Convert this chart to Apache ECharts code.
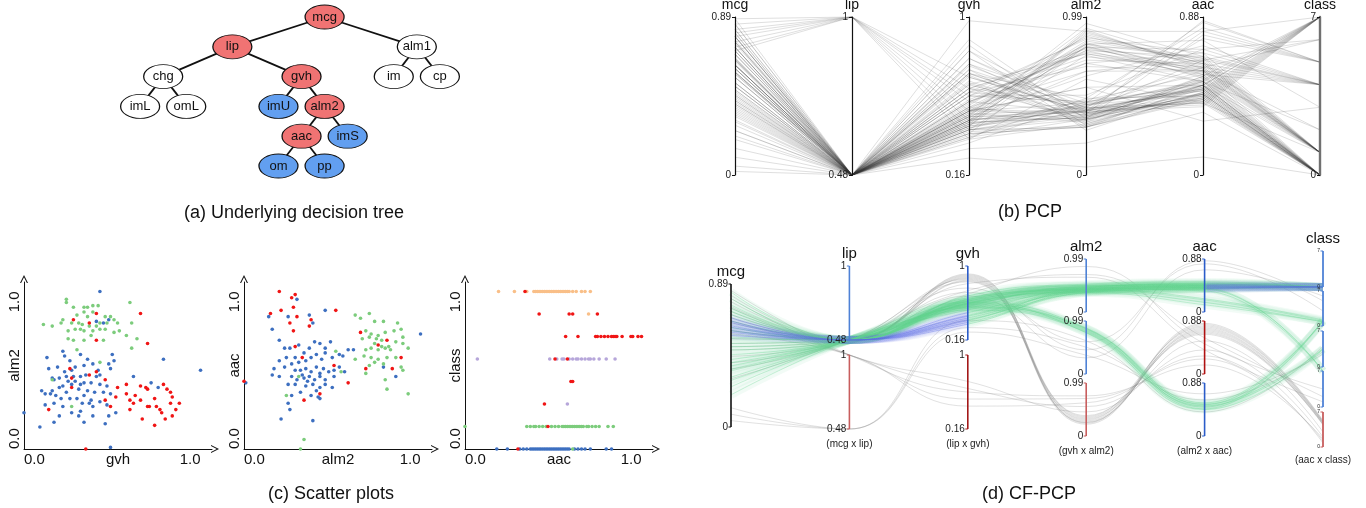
<!DOCTYPE html>
<html><head><meta charset="utf-8">
<script src="https://cdn.jsdelivr.net/npm/echarts@6/dist/echarts.min.js"></script>
<style>html,body{margin:0;padding:0;background:#fff}#c{width:1366px;height:508px}</style>
</head><body><div id="c"></div>
<script>
// ---------------- DATA ----------------
// (a) decision tree
const treeNames   = ['mcg','lip','alm1','chg','gvh','im','cp','imL','omL','imU','alm2','aac','imS','om','pp'];
const treeParents = [-1,0,0,1,1,2,2,3,3,4,4,10,10,11,11];
const treeRoles   = ['path','path','plain','plain','path','plain','plain','plain','plain','leaf','path','path','leaf','leaf','leaf'];

// (b) PCP
const pcpDims = ['mcg','lip','gvh','alm2','aac','class'];
const pcpMin  = [0, 0.48, 0.16, 0, 0, 0];
const pcpMax  = [0.89, 1, 1, 0.99, 0.88, 7];
const pcpRows = [
[0.30,0.48,0.40,0.35,0.45,0],[0.35,0.48,0.45,0.40,0.50,0],[0.40,0.48,0.38,0.30,0.42,0],[0.45,0.48,0.50,0.45,0.48,0],
[0.50,0.48,0.42,0.38,0.52,0],[0.25,0.48,0.35,0.32,0.46,0],[0.20,0.48,0.48,0.42,0.40,0],[0.38,0.48,0.44,0.36,0.55,0],
[0.42,0.48,0.36,0.48,0.44,0],[0.48,0.48,0.52,0.34,0.50,0],[0.33,0.48,0.40,0.40,0.47,0],[0.28,0.48,0.47,0.37,0.43,0],
[0.55,0.48,0.43,0.44,0.51,0],[0.52,0.48,0.39,0.31,0.49,0],[0.36,0.48,0.55,0.39,0.45,0],[0.44,0.48,0.41,0.43,0.53,0],
[0.40,0.48,0.46,0.35,0.41,0],[0.31,0.48,0.37,0.41,0.48,0],[0.47,0.48,0.49,0.33,0.46,0],[0.22,0.48,0.33,0.46,0.50,0],
[0.58,0.48,0.50,0.38,0.44,0],[0.60,0.48,0.44,0.36,0.52,0],[0.39,0.48,0.42,0.42,0.47,0],[0.41,0.48,0.38,0.30,0.43,0],
[0.46,0.48,0.47,0.40,0.49,0],[0.34,0.48,0.45,0.44,0.45,0],[0.15,0.48,0.40,0.37,0.50,0],[0.50,0.48,0.36,0.35,0.54,0],
[0.43,0.48,0.51,0.39,0.42,0],[0.37,0.48,0.43,0.41,0.48,0],[0.62,0.48,0.41,0.47,0.56,0],[0.57,0.48,0.45,0.43,0.58,0],
[0.62,0.48,0.50,0.82,0.58,1],[0.55,0.48,0.45,0.88,0.62,1],[0.70,0.48,0.55,0.78,0.55,1],[0.48,0.48,0.42,0.90,0.60,1],
[0.65,0.48,0.60,0.85,0.65,1],[0.75,0.48,0.52,0.80,0.57,1],[0.58,0.48,0.48,0.92,0.63,1],[0.42,0.48,0.40,0.75,0.52,1],
[0.68,0.48,0.58,0.86,0.68,1],[0.80,0.48,0.62,0.79,0.60,1],[0.52,0.48,0.44,0.83,0.56,1],[0.62,0.48,0.47,0.95,0.66,1],
[0.72,0.48,0.56,0.77,0.59,1],[0.45,0.48,0.38,0.81,0.54,1],[0.60,0.48,0.53,0.87,0.61,1],[0.66,0.48,0.49,0.84,0.64,1],
[0.78,0.48,0.64,0.76,0.58,1],[0.50,0.48,0.46,0.89,0.62,1],[0.64,0.48,0.43,0.91,0.59,1],[0.57,0.48,0.51,0.80,0.63,1],
[0.72,1.00,0.45,0.65,0.58,2],[0.80,1.00,0.55,0.70,0.52,2],
[0.62,0.48,0.50,0.55,0.30,3],[0.25,0.48,0.42,0.82,0.75,3],
[0.65,0.48,0.55,0.72,0.62,4],[0.58,0.48,0.48,0.78,0.66,4],[0.72,0.48,0.60,0.68,0.58,4],[0.52,0.48,0.45,0.80,0.70,4],
[0.68,0.48,0.52,0.65,0.64,4],[0.75,0.48,0.58,0.74,0.60,4],[0.60,0.48,0.50,0.70,0.68,4],[0.55,0.48,0.62,0.76,0.56,4],
[0.78,0.48,0.47,0.62,0.72,4],[0.62,0.48,0.54,0.82,0.65,4],
[0.72,0.48,0.82,0.40,0.80,5],[0.78,0.48,0.75,0.45,0.85,5],[0.65,0.48,0.88,0.35,0.78,5],[0.82,0.48,0.70,0.48,0.82,5],
[0.70,0.48,0.78,0.38,0.86,5],[0.85,0.48,0.72,0.42,0.76,5],
[0.75,1.00,0.62,0.45,0.60,6],[0.82,1.00,0.68,0.40,0.64,6],[0.78,1.00,0.58,0.50,0.70,6],
[0.70,0.48,0.70,0.38,0.42,7],[0.75,0.48,0.65,0.32,0.48,7],[0.65,0.48,0.78,0.42,0.40,7],[0.80,0.48,0.62,0.35,0.45,7],
[0.60,0.48,0.72,0.30,0.50,7],[0.85,0.48,0.68,0.40,0.38,7],[0.72,0.48,0.82,0.28,0.46,7],[0.68,0.48,0.60,0.44,0.52,7],
[0.78,0.48,0.75,0.36,0.43,7],[0.62,0.48,0.66,0.33,0.55,7],[0.88,0.48,0.70,0.39,0.41,7],[0.74,0.48,0.58,0.46,0.47,7],
[0.66,0.48,0.85,0.31,0.44,7],[0.82,0.48,0.64,0.37,0.50,7],[0.58,0.48,0.74,0.41,0.39,7],[0.76,0.48,0.69,0.34,0.53,7],
[0.85,1.00,0.40,0.30,0.45,0],[0.88,1.00,0.50,0.55,0.50,1],[0.05,0.48,0.30,0.20,0.35,0],[0.02,0.48,0.25,0.05,0.10,0],
[0.10,0.48,0.98,0.90,0.80,7],[0.70,1.00,0.35,0.60,0.40,1]
];

// (c) scatter plot 1: gvh (x) vs alm2 (y)
const s1Green = [[0.24,0.95],[0.24,0.93],[0.28,0.90],[0.34,0.90],[0.36,0.90],[0.39,0.91],[0.42,0.91],[0.34,0.87],[0.30,0.85],
[0.36,0.84],[0.39,0.87],[0.46,0.84],[0.49,0.84],[0.51,0.82],[0.60,0.93],[0.22,0.82],[0.21,0.80],[0.11,0.79],[0.16,0.78],
[0.27,0.80],[0.31,0.80],[0.33,0.79],[0.37,0.78],[0.41,0.78],[0.43,0.80],[0.47,0.80],[0.53,0.80],[0.54,0.75],[0.61,0.80],
[0.25,0.75],[0.29,0.76],[0.32,0.76],[0.34,0.75],[0.39,0.75],[0.43,0.76],[0.46,0.76],[0.51,0.74],[0.58,0.72],[0.25,0.70],
[0.28,0.69],[0.34,0.69],[0.38,0.72],[0.45,0.69],[0.64,0.70],[0.61,0.64],[0.30,0.63],[0.43,0.55],[0.16,0.44],[0.27,0.27]];
const s1Red = [[0.28,0.82],[0.37,0.80],[0.41,0.86],[0.41,0.69],[0.66,0.86],[0.70,0.67],
[0.26,0.51],[0.27,0.45],[0.27,0.39],[0.37,0.47],[0.41,0.49],[0.46,0.44],[0.53,0.39],[0.58,0.41],[0.52,0.33],[0.46,0.31],
[0.49,0.27],[0.58,0.35],[0.60,0.31],[0.62,0.29],[0.63,0.34],[0.66,0.40],[0.69,0.39],[0.66,0.31],[0.70,0.38],[0.71,0.27],
[0.74,0.32],[0.75,0.27],[0.77,0.25],[0.79,0.41],[0.81,0.38],[0.83,0.36],[0.84,0.33],[0.83,0.29],[0.78,0.23],[0.80,0.19],
[0.84,0.21],[0.86,0.25],[0.88,0.29],[0.74,0.15],[0.67,0.19],[0.60,0.25],[0.35,0.00],[0.70,0.27],[0.14,0.25]];
const s1Blue = [[0.43,1.00],[0.41,0.81],[0.45,0.80],[0.48,0.82],
[0.22,0.62],[0.23,0.59],[0.13,0.58],[0.32,0.60],[0.36,0.57],[0.26,0.56],[0.19,0.52],[0.14,0.51],[0.29,0.52],[0.34,0.53],
[0.39,0.54],[0.42,0.50],[0.48,0.54],[0.51,0.56],[0.50,0.60],[0.49,0.51],[0.27,0.50],[0.23,0.49],[0.16,0.45],[0.17,0.44],
[0.20,0.45],[0.24,0.46],[0.28,0.46],[0.32,0.46],[0.35,0.47],[0.41,0.46],[0.43,0.47],[0.29,0.43],[0.27,0.41],[0.22,0.40],
[0.20,0.39],[0.16,0.37],[0.10,0.37],[0.12,0.35],[0.15,0.35],[0.18,0.34],[0.24,0.36],[0.32,0.41],[0.34,0.42],[0.38,0.42],
[0.43,0.41],[0.47,0.40],[0.36,0.37],[0.40,0.36],[0.45,0.36],[0.49,0.35],[0.34,0.34],[0.30,0.32],[0.26,0.32],[0.21,0.32],
[0.12,0.28],[0.17,0.29],[0.22,0.27],[0.33,0.29],[0.37,0.29],[0.39,0.27],[0.43,0.30],[0.47,0.28],[0.32,0.24],[0.27,0.23],
[0.20,0.21],[0.17,0.17],[0.31,0.21],[0.34,0.17],[0.39,0.21],[0.46,0.16],[0.52,0.23],[0.48,0.21],[0.62,0.46],[0.72,0.42],
[0.76,0.39],[0.79,0.57],[1.00,0.50],[0.09,0.14],[0.00,0.23],[0.49,0.01],[0.25,0.43],[0.31,0.38],[0.38,0.31]];

// (c) scatter plot 2: alm2 (x) vs aac (y)
const s2Red = [[0.20,1.00],[0.27,0.96],[0.29,0.98],[0.28,0.90],[0.21,0.88],[0.15,0.86],[0.30,0.84],[0.26,0.80],[0.38,0.82],
[0.37,0.78],[0.52,0.88],[0.28,0.75],[0.29,0.65],[0.33,0.58],[0.51,0.53],[0.43,0.35],[0.34,0.31],[0.59,0.42],[0.66,0.74],
[0.76,0.66],[0.81,0.69],[0.89,0.58],[0.84,0.51],[0.69,0.51],[0.00,0.43]];
const s2Blue = [[0.14,0.84],[0.16,0.76],[0.25,0.84],[0.37,0.85],[0.46,0.88],[0.30,0.95],[0.39,0.80],[0.20,0.69],[0.23,0.64],
[0.26,0.64],[0.31,0.66],[0.37,0.64],[0.40,0.68],[0.43,0.67],[0.46,0.64],[0.49,0.68],[0.20,0.56],[0.24,0.58],[0.27,0.54],
[0.29,0.58],[0.31,0.55],[0.34,0.61],[0.35,0.56],[0.38,0.58],[0.41,0.60],[0.44,0.57],[0.46,0.61],[0.50,0.58],[0.54,0.60],
[0.56,0.59],[0.59,0.63],[0.62,0.63],[0.17,0.51],[0.23,0.52],[0.29,0.50],[0.32,0.50],[0.35,0.51],[0.38,0.49],[0.41,0.52],
[0.43,0.48],[0.45,0.51],[0.48,0.49],[0.51,0.50],[0.54,0.52],[0.57,0.49],[0.20,0.46],[0.27,0.46],[0.30,0.44],[0.34,0.45],
[0.37,0.46],[0.40,0.44],[0.43,0.46],[0.46,0.44],[0.51,0.46],[0.25,0.41],[0.29,0.41],[0.35,0.40],[0.39,0.41],[0.43,0.39],
[0.46,0.41],[0.50,0.39],[0.32,0.36],[0.38,0.34],[0.42,0.33],[0.27,0.34],[0.25,0.29],[0.26,0.25],[0.21,0.19],[0.39,0.18],
[0.43,0.32],[0.16,0.47],[0.01,0.42],[0.86,0.46],[1.00,0.73],[0.79,0.52],[0.33,0.47],[0.36,0.43],[0.41,0.37]];
const s2Green = [[0.63,0.85],[0.71,0.86],[0.66,0.83],[0.74,0.81],[0.79,0.81],[0.87,0.80],[0.69,0.75],[0.72,0.73],[0.76,0.72],
[0.80,0.74],[0.85,0.75],[0.89,0.76],[0.90,0.71],[0.67,0.70],[0.71,0.71],[0.74,0.67],[0.78,0.69],[0.82,0.65],[0.86,0.68],
[0.90,0.67],[0.69,0.63],[0.72,0.64],[0.76,0.63],[0.80,0.64],[0.83,0.63],[0.93,0.64],[0.63,0.57],[0.68,0.59],[0.72,0.58],
[0.76,0.57],[0.81,0.58],[0.86,0.58],[0.71,0.53],[0.74,0.55],[0.79,0.54],[0.89,0.52],[0.69,0.48],[0.80,0.44],[0.90,0.50],
[0.81,0.38],[0.93,0.35],[0.52,0.62],[0.55,0.49],[0.31,0.46],[0.24,0.34],[0.34,0.06],[0.32,0.00],[0.75,0.70],[0.78,0.65]];

// (c) scatter plot 3: aac (x) vs class index (0..7)
const s3Orange = [[0.19,7],[0.28,7],[0.35,7],[0.39,7],[0.40,7],[0.41,7],[0.42,7],[0.43,7],[0.44,7],[0.45,7],[0.46,7],[0.47,7],
[0.48,7],[0.49,7],[0.50,7],[0.51,7],[0.52,7],[0.53,7],[0.54,7],[0.55,7],[0.56,7],[0.57,7],[0.58,7],[0.59,7],[0.61,7],[0.63,7],
[0.66,7],[0.68,7],[0.71,7],[0.70,6]];
const s3Red = [[0.34,7],[0.42,6],[0.59,6],[0.61,6],[0.75,6],[0.57,5],[0.64,5],[0.74,5],[0.75,5],[0.77,5],[0.79,5],[0.81,5],
[0.83,5],[0.84,5],[0.85,5],[0.86,5],[0.89,5],[0.94,5],[0.95,5],[0.98,5],[1.00,5],[0.51,4],[0.58,4],[0.60,3],[0.61,3],
[0.45,2],[0.47,1],[0.30,0]];
const s3Purple = [[0.07,4],[0.48,4],[0.52,4],[0.55,4],[0.56,4],[0.59,4],[0.61,4],[0.63,4],[0.64,4],[0.66,4],[0.68,4],[0.70,4],
[0.71,4],[0.73,4],[0.76,4],[0.80,4],[0.85,4],[0.58,2]];
const s3Green = [[0.00,1],[0.35,1],[0.37,1],[0.39,1],[0.40,1],[0.42,1],[0.44,1],[0.46,1],[0.49,1],[0.51,1],[0.53,1],[0.55,1],
[0.56,1],[0.57,1],[0.58,1],[0.59,1],[0.60,1],[0.61,1],[0.62,1],[0.63,1],[0.64,1],[0.65,1],[0.66,1],[0.67,1],[0.69,1],[0.70,1],
[0.72,1],[0.74,1],[0.76,1],[0.81,1],[0.84,1],[0.61,0]];
const s3Blue = [[0.18,0],[0.24,0],[0.31,0],[0.33,0],[0.35,0],[0.37,0],[0.38,0],[0.39,0],[0.40,0],[0.41,0],[0.42,0],[0.43,0],
[0.44,0],[0.45,0],[0.46,0],[0.47,0],[0.48,0],[0.49,0],[0.50,0],[0.51,0],[0.52,0],[0.53,0],[0.54,0],[0.55,0],[0.56,0],[0.57,0],
[0.58,0],[0.59,0],[0.62,0],[0.64,0],[0.66,0],[0.68,0],[0.71,0],[0.80,0],[0.83,0]];

// (d) CF-PCP: tick labels per axis, captions
const cfNames    = ['mcg','lip','gvh','alm2','aac','class'];
const cfMin      = [0, 0.48, 0.16, 0, 0, 0];
const cfMax      = [0.89, 1, 1, 0.99, 0.88, 7];
const cfCaptions = ['', '(mcg x lip)', '(lip x gvh)', '(gvh x alm2)', '(alm2 x aac)', '(aac x class)'];
const cfSubAxisKind = [['root'],['hit','miss'],['hit','miss'],['hit','hit','miss'],['hit','miss','hit'],['hit','hit','hit','hit','miss']];
// bundles: sub-axis path, tone per gap (B blue, G green, N neutral), rows [mcg, lip, gvh, alm2, aac, class]
const cfBluePath = [0,0,0,0,0,0], cfBlueTone = ['B','B','G','G','B'];
const cfBlueRows = [[0.68,0.48,0.47,0.45,0.46,0],[0.65,0.48,0.44,0.42,0.44,0],[0.66,0.48,0.41,0.40,0.43,0],[0.62,0.48,0.43,0.39,0.41,0],
[0.60,0.48,0.38,0.41,0.40,0],[0.63,0.48,0.36,0.37,0.42,0],[0.57,0.48,0.39,0.36,0.39,0],[0.59,0.48,0.34,0.38,0.38,0]];
const cfGreenAPath = [0,0,0,0,0,0], cfGreenATone = ['G','G','G','G','G'];
const cfGreenARows = [[0.84,0.48,0.62,0.50,0.48,0],[0.76,0.48,0.58,0.47,0.45,0],[0.70,0.48,0.66,0.52,0.50,0],[0.52,0.48,0.55,0.44,0.42,0],
[0.45,0.48,0.60,0.46,0.47,0],[0.38,0.48,0.52,0.41,0.40,0],[0.31,0.48,0.57,0.43,0.44,0],[0.25,0.48,0.50,0.39,0.38,0],
[0.20,0.48,0.54,0.48,0.46,0],[0.56,0.48,0.64,0.42,0.41,0]];
const cfGreenBPath = [0,0,0,0,0,1], cfGreenBTone = ['G','G','G','G','G'];
const cfGreenBRows = [[0.72,0.48,0.60,0.40,0.20,1.0],[0.48,0.48,0.56,0.38,0.16,0.8],[0.35,0.48,0.62,0.42,0.22,1.2],[0.60,0.48,0.58,0.36,0.12,0.9]];
const cfGreenCPath = [0,0,0,1,2,1], cfGreenCTone = ['G','G','G','G','G'];
const cfGreenCRows = [[0.66,0.48,0.56,0.84,0.52,1.1],[0.42,0.48,0.52,0.80,0.48,0.9],[0.29,0.48,0.59,0.86,0.55,1.0],[0.55,0.48,0.50,0.78,0.45,1.2]];
const cfGreenDPath = [0,0,0,1,2,2], cfGreenDTone = ['G','G','G','G','G'];
const cfGreenDRows = [[0.74,0.48,0.54,0.82,0.50,3.5],[0.36,0.48,0.58,0.77,0.44,3.4],[0.50,0.48,0.53,0.85,0.53,3.6]];
const cfGreenEPath = [0,0,0,0,0,3], cfGreenETone = ['G','G','G','G','G'];
const cfGreenERows = [[0.62,0.48,0.61,0.45,0.38,7],[0.40,0.48,0.57,0.43,0.35,6.9],[0.80,0.48,0.63,0.49,0.40,7]];
const cfGrayAPath = [0,0,0,2,1,4], cfGrayATone = ['N','N','N','N','N'];
const cfGrayARows = [[0.78,0.48,0.90,0.30,0.80,5.0],[0.65,0.48,0.87,0.25,0.76,4.8],[0.55,0.48,0.88,0.34,0.72,4.6],[0.72,0.48,0.84,0.22,0.82,5.2],
[0.48,0.48,0.86,0.28,0.70,4.4],[0.82,0.48,0.89,0.36,0.78,5.0],[0.60,0.48,0.83,0.26,0.74,4.9],[0.40,0.48,0.85,0.32,0.68,4.7],
[0.70,0.48,0.91,0.24,0.84,5.3],[0.36,0.48,0.82,0.38,0.66,4.5]];
const cfGrayBPath = [0,1,1,2,1,4], cfGrayBTone = ['N','N','N','N','N'];
const cfGrayBRows = [[0.74,1,0.62,0.55,0.40,2.0],[0.66,1,0.50,0.70,0.25,1.2],[0.80,1,0.70,0.45,0.55,3.0],[0.58,1,0.42,0.62,0.30,0.8],[0.85,1,0.58,0.75,0.15,1.6]];
const cfGrayCPath = [0,1,0,1,2,2], cfGrayCTone = ['N','N','N','N','N'];
const cfGrayCRows = [[0.08,0.48,0.30,0.50,0.60,3.0],[0.04,0.48,0.25,0.35,0.70,2.5],[0.12,0.48,0.38,0.62,0.40,4.0]];
const cfGrayDPath = [0,0,0,1,0,1], cfGrayDTone = ['N','N','N','N','N'];
const cfGrayDRows = [[0.50,0.48,0.70,0.60,0.80,3.0],[0.44,0.48,0.75,0.45,0.85,5.0],[0.68,0.48,0.66,0.30,0.70,6.0]];
const cfGrayEPath = [0,0,0,0,1,3], cfGrayETone = ['N','N','N','N','N'];
const cfGrayERows = [[0.30,0.48,0.72,0.70,0.60,2.0],[0.75,0.48,0.68,0.85,0.50,3.5],[0.52,0.48,0.80,0.65,0.40,1.0]];

// ---------------- LAYOUT / STYLE ----------------
const FONT = 'Liberation Sans';
const ROLE_COLOR = {path:'#f07373', leaf:'#629ff0', plain:'#ffffff'};
// CF sub-axis vertical layout in panel units (0 = top of panel)
const CF_SEGS = [
  [[54,197]],
  [[36,110],[125,199]],
  [[36,110],[125,199]],
  [[29,82],[91,144],[153,206]],
  [[29,82],[91,144],[153,206]],
  [[21,57],[61,96],[101,137],[141,177],[182,217]]
];
const CF_KIND_COLOR = [
  {root:'#111111'},
  {hit:'#4f82d6', miss:'#c85e5e'},
  {hit:'#2b5cc9', miss:'#a31818'},
  {hit:'#4f82d6', miss:'#c85e5e'},
  {hit:'#2b5cc9', miss:'#b01212'},
  {hit:'#4f82d6', miss:'#c85e5e'}
];
const TONE = {B:[88,104,226], G:[95,210,140], N:[130,130,130]};

// ---------------- BUILD ----------------
function buildTree(i){
  const kids = [];
  treeParents.forEach((p,j)=>{ if(p===i) kids.push(buildTree(j)); });
  const node = {name:treeNames[i], itemStyle:{color:ROLE_COLOR[treeRoles[i]], borderColor:'#111', borderWidth:1}};
  if (kids.length) node.children = kids;
  return node;
}
const treeRoot = buildTree(0);

function cfY(a, seg, v){
  const s = CF_SEGS[a][seg];
  return s[0] + (cfMax[a]-v)/(cfMax[a]-cfMin[a])*(s[1]-s[0]);
}
function toneColor(tones, alpha){
  const rgba = t => 'rgba('+TONE[t].join(',')+','+alpha+')';
  if (tones.every(t=>t===tones[0])) return rgba(tones[0]);
  const stops = [];
  tones.forEach((t,i)=>{ stops.push({offset:i/5, color:rgba(t)}); stops.push({offset:(i+1)/5, color:rgba(t)}); });
  return new echarts.graphic.LinearGradient(0,0,1,0,stops);
}
const cfBundles = [
  {path:cfGrayAPath, tone:cfGrayATone, rows:cfGrayARows},
  {path:cfGrayBPath, tone:cfGrayBTone, rows:cfGrayBRows},
  {path:cfGrayCPath, tone:cfGrayCTone, rows:cfGrayCRows},
  {path:cfGrayDPath, tone:cfGrayDTone, rows:cfGrayDRows},
  {path:cfGrayEPath, tone:cfGrayETone, rows:cfGrayERows},
  {path:cfGreenAPath, tone:cfGreenATone, rows:cfGreenARows},
  {path:cfGreenBPath, tone:cfGreenBTone, rows:cfGreenBRows},
  {path:cfGreenCPath, tone:cfGreenCTone, rows:cfGreenCRows},
  {path:cfGreenDPath, tone:cfGreenDTone, rows:cfGreenDRows},
  {path:cfGreenEPath, tone:cfGreenETone, rows:cfGreenERows},
  {path:cfBluePath, tone:cfBlueTone, rows:cfBlueRows}
];
const cfSeries = [];
cfBundles.forEach(b=>{
  const neutral = b.tone.every(t=>t==='N');
  b.rows.forEach(r=>{
    const pts = r.map((v,a)=>[a, cfY(a, b.path[a], v)]);
    if (neutral) {
      cfSeries.push({type:'line', xAxisIndex:3, yAxisIndex:3, data:pts, smooth:0.45, symbol:'none', silent:true, z:2,
        lineStyle:{width:0.8, color:toneColor(b.tone,0.3)}});
    } else {
      cfSeries.push({type:'line', xAxisIndex:3, yAxisIndex:3, data:pts, smooth:0.45, symbol:'none', silent:true, z:3,
        lineStyle:{width:8, color:toneColor(b.tone,0.08)}});
      cfSeries.push({type:'line', xAxisIndex:3, yAxisIndex:3, data:pts, smooth:0.45, symbol:'none', silent:true, z:4,
        lineStyle:{width:0.8, color:toneColor(b.tone,0.4)}});
    }
  });
});
const cfSegItems = [];
CF_SEGS.forEach((segs,a)=>segs.forEach((s,k)=>cfSegItems.push([a,k])));
function fmt(v){ return String(v); }
const cfAxisSeries = {
  type:'custom', xAxisIndex:3, yAxisIndex:3, data:cfSegItems, silent:true, z:10, clip:false,
  renderItem:function(params, api){
    const a = api.value(0), k = api.value(1);
    const s = CF_SEGS[a][k];
    const p1 = api.coord([a, s[0]]), p2 = api.coord([a, s[1]]);
    const col = CF_KIND_COLOR[a][cfSubAxisKind[a][k]];
    const small = a===5;
    const fs = small ? 5 : 10;
    const ch = [
      {type:'line', shape:{x1:p1[0],y1:p1[1],x2:p2[0],y2:p2[1]}, style:{stroke:col, lineWidth:small?1.8:1.6}},
      {type:'line', shape:{x1:p1[0]-2.5,y1:p1[1],x2:p1[0],y2:p1[1]}, style:{stroke:col, lineWidth:1}},
      {type:'line', shape:{x1:p2[0]-2.5,y1:p2[1],x2:p2[0],y2:p2[1]}, style:{stroke:col, lineWidth:1}},
      {type:'text', style:{text:fmt(cfMax[a]), x:p1[0]-3, y:p1[1], align:'right', verticalAlign:'middle', fontSize:fs, fontFamily:FONT, fill:'#222'}},
      {type:'text', style:{text:fmt(cfMin[a]), x:p2[0]-3, y:p2[1], align:'right', verticalAlign:'middle', fontSize:fs, fontFamily:FONT, fill:'#222'}}
    ];
    if (k===0) ch.push({type:'text', style:{text:cfNames[a], x:p1[0], y:p1[1]-12, align:'center', verticalAlign:'middle', fontSize:15, fontFamily:FONT, fill:'#111'}});
    if (k===CF_SEGS[a].length-1 && cfCaptions[a]) ch.push({type:'text', style:{text:cfCaptions[a], x:p2[0], y:p2[1]+(small?13:15), align:'center', verticalAlign:'middle', fontSize:10, fontFamily:FONT, fill:'#222'}});
    return {type:'group', children:ch};
  }
};

// scatter axes
const CHEVRON = 'path://M0,10 L5,0 L10,10 L8.6,10 L5,2.8 L1.4,10 Z';
function sxAxis(gi, name){
  return {gridIndex:gi, type:'value', min:0, max:1.065, name:name, nameLocation:'middle', nameGap:3, nameMoveOverlap:false,
    nameTextStyle:{fontSize:15, color:'#111', fontFamily:FONT, verticalAlign:'top'},
    axisLine:{show:true, onZero:false, lineStyle:{color:'#111', width:1}, symbol:['none', CHEVRON], symbolSize:[10,8], symbolOffset:[0,3]},
    axisTick:{show:false}, splitLine:{show:false},
    axisLabel:{customValues:[0,1], formatter:v=>v.toFixed(1), fontSize:15, color:'#111', fontFamily:FONT, margin:3, alignMinLabel:'left', alignMaxLabel:'right'}};
}
function syAxis(gi, name){
  return {gridIndex:gi, type:'value', min:0, max:1.06, name:name, nameLocation:'middle', nameGap:2, nameRotate:90, nameMoveOverlap:false,
    nameTextStyle:{fontSize:15, color:'#111', fontFamily:FONT, verticalAlign:'bottom'},
    axisLine:{show:true, onZero:false, lineStyle:{color:'#111', width:1}, symbol:['none', CHEVRON], symbolSize:[10,8], symbolOffset:[0,3]},
    axisTick:{show:false}, splitLine:{show:false},
    axisLabel:{customValues:[0,1], formatter:v=>v.toFixed(1), rotate:90, fontSize:15, color:'#111', fontFamily:FONT, margin:2, alignMinLabel:'left', alignMaxLabel:'right'}};
}
function sc(gi, data, color){
  return {type:'scatter', xAxisIndex:gi, yAxisIndex:gi, data:data, symbolSize:3.6, silent:true, itemStyle:{color:color, opacity:1}};
}
const C_BLUE='#3d6fc0', C_RED='#f01515', C_GREEN='#7ccc7c', C_ORANGE='#f9bf88', C_PURPLE='#b6a6da';
const toClass = arr => arr.map(p=>[p[0], p[1]/7]);

const pcpAxes = pcpDims.map((d,i)=>({
  dim:i, name:d, min:pcpMin[i], max:pcpMax[i], nameLocation:'end', nameGap:3,
  nameTextStyle:{fontSize:14, color:'#111', fontFamily:FONT},
  axisLine:{lineStyle:{color: i===5 ? '#707070' : '#111', width: i===5 ? 2.4 : 1.2}},
  axisTick:{customValues:[pcpMin[i], pcpMax[i]], length:-3, lineStyle:{color:'#111'}},
  axisLabel:{customValues:[pcpMin[i], pcpMax[i]], formatter:v=>fmt(v), align:'right', fontSize:10, color:'#222', fontFamily:FONT, margin:-4},
  splitLine:{show:false}
}));

const gridBase = {outerBoundsMode:'none', containLabel:false};
const option = {
  animation:false,
  textStyle:{fontFamily:FONT},
  parallel:{left:735, right:46, top:17, bottom:333, layout:'horizontal', parallelAxisDefault:{type:'value'}},
  parallelAxis:pcpAxes,
  grid:[
    Object.assign({left:24, top:282, width:188, height:167}, gridBase),
    Object.assign({left:244, top:282, width:188, height:167}, gridBase),
    Object.assign({left:465, top:282, width:188, height:167}, gridBase),
    Object.assign({left:731, top:230, width:592, height:230}, gridBase)
  ],
  xAxis:[sxAxis(0,'gvh'), sxAxis(1,'alm2'), sxAxis(2,'aac'), {gridIndex:3, type:'value', min:0, max:5, show:false}],
  yAxis:[syAxis(0,'alm2'), syAxis(1,'aac'), syAxis(2,'class'), {gridIndex:3, type:'value', min:0, max:230, inverse:true, show:false}],
  graphic:[
    {type:'text', x:294, y:213, style:{text:'(a) Underlying decision tree', fontSize:18, fontFamily:FONT, fill:'#111', align:'center', verticalAlign:'middle'}},
    {type:'text', x:1030, y:212, style:{text:'(b) PCP', fontSize:18, fontFamily:FONT, fill:'#111', align:'center', verticalAlign:'middle'}},
    {type:'text', x:331, y:494, style:{text:'(c) Scatter plots', fontSize:18, fontFamily:FONT, fill:'#111', align:'center', verticalAlign:'middle'}},
    {type:'text', x:1029, y:494, style:{text:'(d) CF-PCP', fontSize:18, fontFamily:FONT, fill:'#111', align:'center', verticalAlign:'middle'}}
  ],
  series:[
    {type:'tree', data:[treeRoot], left:94, width:392, top:17, height:149, orient:'TB', layout:'orthogonal',
     symbol:'path://M0,50 A50,50 0 1,1 100,50 A50,50 0 1,1 0,50 Z', symbolSize:[39,24],
     initialTreeDepth:-1, expandAndCollapse:false, roam:false, silent:true, edgeShape:'curve',
     lineStyle:{color:'#111', width:1.8, curveness:0},
     label:{position:'inside', fontSize:13, color:'#111', fontFamily:FONT},
     leaves:{label:{position:'inside', fontSize:13, color:'#111', fontFamily:FONT}},
     emphasis:{disabled:true}},
    {type:'parallel', data:pcpRows, silent:true, lineStyle:{color:'#333', width:0.8, opacity:0.2}},
    sc(0, s1Blue, C_BLUE), sc(0, s1Green, C_GREEN), sc(0, s1Red, C_RED),
    sc(1, s2Blue, C_BLUE), sc(1, s2Green, C_GREEN), sc(1, s2Red, C_RED),
    sc(2, toClass(s3Blue), C_BLUE), sc(2, toClass(s3Green), C_GREEN), sc(2, toClass(s3Purple), C_PURPLE),
    sc(2, toClass(s3Orange), C_ORANGE), sc(2, toClass(s3Red), C_RED),
    ...cfSeries,
    cfAxisSeries
  ]
};
const chart = echarts.init(document.getElementById('c'), null, {renderer:'canvas'});
chart.setOption(option);
</script></body></html>
